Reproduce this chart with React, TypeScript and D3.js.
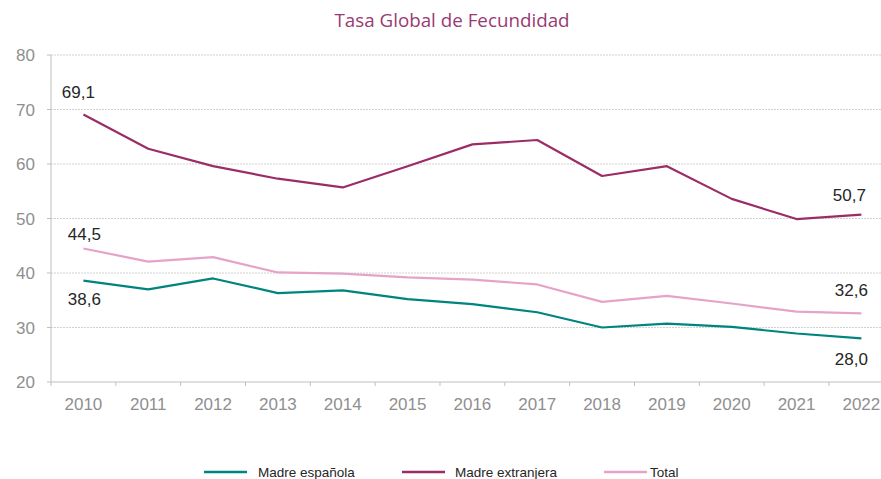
import React from "react";
import * as d3 from "d3";

const years = ["2010","2011","2012","2013","2014","2015","2016","2017","2018","2019","2020","2021","2022"];
const madreEspanola = [38.6, 37.0, 39.0, 36.3, 36.8, 35.2, 34.3, 32.8, 30.0, 30.7, 30.1, 28.9, 28.0];
const madreExtranjera = [69.1, 62.8, 59.6, 57.3, 55.7, 59.6, 63.6, 64.4, 57.8, 59.6, 53.6, 49.9, 50.7];
const total = [44.5, 42.1, 42.9, 40.1, 39.9, 39.2, 38.8, 37.9, 34.7, 35.8, 34.4, 32.9, 32.6];
const yTicks = [20, 30, 40, 50, 60, 70, 80];

const series = [
  { name: "Madre española", values: madreEspanola, color: "#00847f" },
  { name: "Madre extranjera", values: madreExtranjera, color: "#9b2d66" },
  { name: "Total", values: total, color: "#e5a3c8" },
];

const W = 881, H = 479;
const left = 51, top = 55, bottom = 382;
const bandW = 64.83;

export default function App() {
  const x = d3.scaleBand<string>().domain(years).range([left, left + bandW * years.length]);
  const y = d3.scaleLinear().domain([20, 80]).range([bottom, top]);
  const cx = (i: number) => (x(years[i]) as number) + x.bandwidth() / 2;
  const line = d3.line<number>().x((_, i) => cx(i)).y((d) => y(d));
  const fmt = (v: number) => v.toFixed(1).replace(".", ",");
  const gridRight = 881;
  const labelFont = "Liberation Sans, Arial, sans-serif";
  const last = years.length - 1;

  const legendItems = [
    { ...series[0], lx: 204, tx: 258 },
    { ...series[1], lx: 402, tx: 455 },
    { ...series[2], lx: 604, tx: 650 },
  ];

  return (
    <svg width={W} height={H} style={{ position: "absolute", left: 0, top: 0, background: "#fff", overflow: "hidden" }}>
      <text x={452} y={27} textAnchor="middle" fontFamily="Open Sans, sans-serif" fontSize={18.8} fill="#993a73">
        Tasa Global de Fecundidad
      </text>
      {yTicks.map((t) => (
        <g key={t}>
          {t > 20 && (
            <line x1={left} x2={gridRight} y1={y(t)} y2={y(t)} stroke="#d0d0d0" strokeWidth={1} strokeDasharray="2,1" />
          )}
          <line x1={left - 4} x2={left} y1={y(t)} y2={y(t)} stroke="#bfbfbf" />
          <text x={35} y={y(t) + 6} textAnchor="end" fontFamily={labelFont} fontSize={17} fill="#8f8f8f">{t}</text>
        </g>
      ))}
      <line x1={left} x2={left} y1={top} y2={bottom} stroke="#bfbfbf" strokeWidth={1} />
      <line x1={left} x2={gridRight} y1={bottom} y2={bottom} stroke="#bfbfbf" strokeWidth={1} />
      {years.map((yr, i) => (
        <g key={yr}>
          <line x1={x(yr) as number} x2={x(yr) as number} y1={bottom} y2={bottom + 4} stroke="#bfbfbf" />
          <text x={cx(i)} y={410} textAnchor="middle" fontFamily={labelFont} fontSize={17} fill="#8f8f8f">{yr}</text>
        </g>
      ))}
      {series.map((s) => (
        <path key={s.name} d={line(s.values) as string} fill="none" stroke={s.color} strokeWidth={2.2} strokeLinejoin="round" />
      ))}
      <g fontFamily={labelFont} fontSize={17} fill="#262626" textAnchor="middle">
        <text x={cx(0) - 5} y={y(madreExtranjera[0]) - 16}>{fmt(madreExtranjera[0])}</text>
        <text x={cx(0) + 1} y={y(total[0]) - 8}>{fmt(total[0])}</text>
        <text x={cx(0) + 1} y={y(madreEspanola[0]) + 24}>{fmt(madreEspanola[0])}</text>
        <text x={cx(last) - 12} y={y(madreExtranjera[last]) - 14}>{fmt(madreExtranjera[last])}</text>
        <text x={cx(last) - 10} y={y(total[last]) - 17}>{fmt(total[last])}</text>
        <text x={cx(last) - 10} y={y(madreEspanola[last]) + 27}>{fmt(madreEspanola[last])}</text>
      </g>
      {legendItems.map((l) => (
        <g key={l.name}>
          <line x1={l.lx} x2={l.lx + 43} y1={472} y2={472} stroke={l.color} strokeWidth={2.5} />
          <text x={l.tx} y={477} fontFamily={labelFont} fontSize={13.5} fill="#262626">{l.name}</text>
        </g>
      ))}
    </svg>
  );
}
